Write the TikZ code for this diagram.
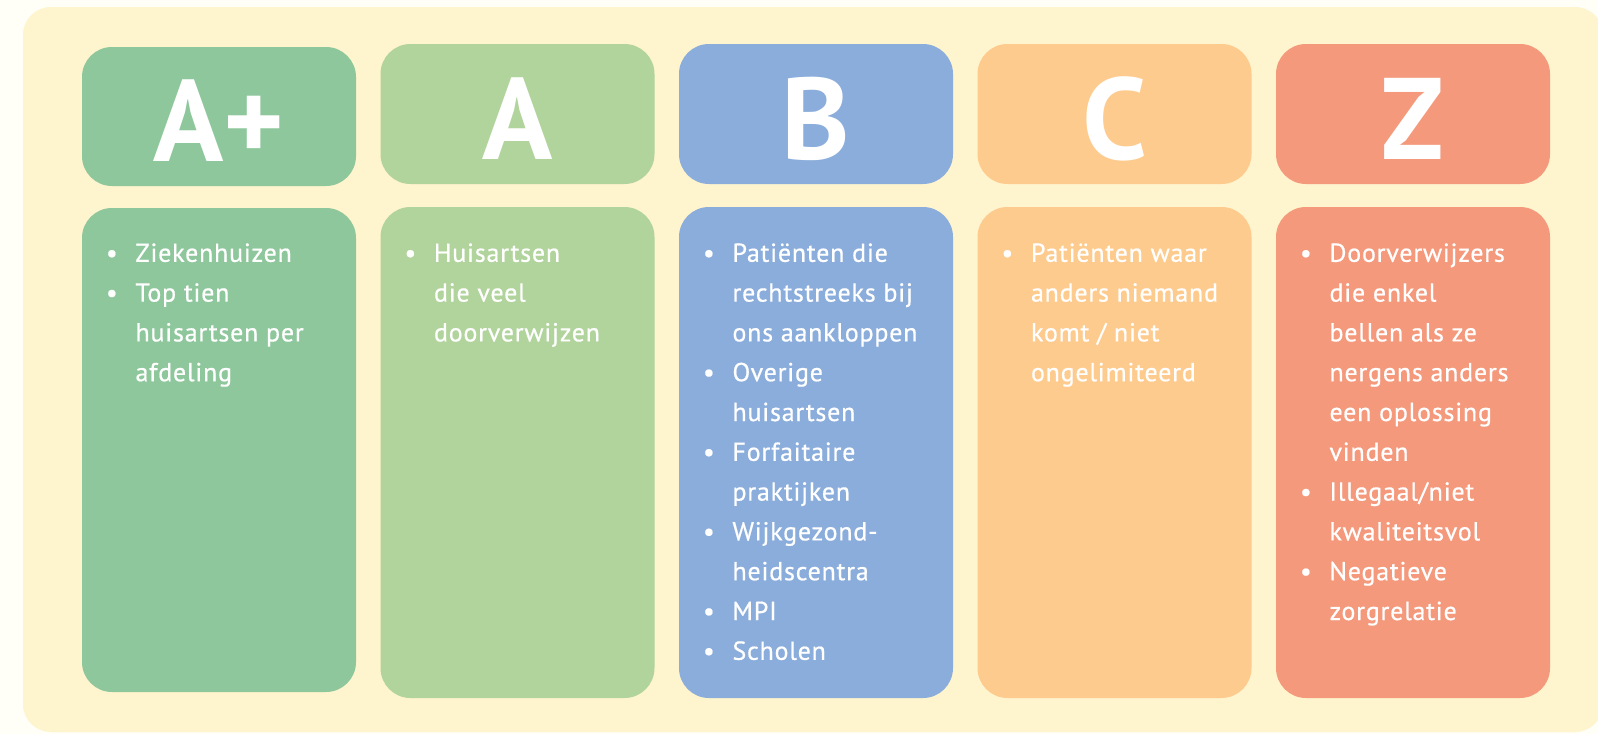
\documentclass[tikz,border=0pt]{standalone}
\usepackage{fontspec}
\setmainfont{PT Sans}
\newfontfamily\itemfont[FakeBold=0.6,LetterSpace=3]{PT Sans}
\usepackage{xcolor}
\usepackage{tikz}
\usetikzlibrary{positioning,calc}
\definecolor{paper}{HTML}{FFFEF7}
\definecolor{panel}{HTML}{FEF4CD}
\definecolor{colAp}{HTML}{8EC79B}
\definecolor{colA}{HTML}{B1D39C}
\definecolor{colB}{HTML}{8BADDB}
\definecolor{colC}{HTML}{FECB8E}
\definecolor{colZ}{HTML}{F4997C}
\newcommand{\bitem}[1]{\hbox{\makebox[29.5pt][l]{•}#1}}
\newcommand{\bline}[1]{\hbox{\hspace{29.5pt}#1}}
\newcommand{\blist}[1]{\vtop{\itemfont\fontsize{26}{39.8}\selectfont #1}}

\begin{document}
\begin{tikzpicture}[x=1pt,y=-1pt,
    hdr/.style={rounded corners=30pt, minimum width=274pt, minimum height=140pt, inner sep=0pt},
    card/.style={rounded corners=30pt, minimum width=274pt, minimum height=491pt, inner sep=0pt},
    grade/.style={anchor=base, text=white, inner sep=0pt, font=\fontsize{116}{116}\selectfont\bfseries},
    items/.style={anchor=base west, text=white, inner sep=0pt}]
    \useasboundingbox[fill=paper] (0,0) rectangle (1598,734);
    \fill[panel, rounded corners=28pt] (23,7) rectangle (1603,732);

    \node[hdr, fill=colAp, minimum height=139pt] (hAp) at (219,116.5) {};
    \node[hdr, fill=colA] (hA) at (517.5,114) {};
    \node[hdr, fill=colB] (hB) at (816,114) {};
    \node[hdr, fill=colC] (hC) at (1114.5,114) {};
    \node[hdr, fill=colZ] (hZ) at (1413,114) {};
    \node[grade] (gAp) at ($(hAp.south)+(0,-25)$) {A+};
    \node[grade] (gA) at ($(hA.south)+(0,-25)$) {A};
    \node[grade] (gB) at ($(hB.south)+(0,-25)$) {B};
    \node[grade] (gC) at ($(hC.south)+(0,-25)$) {C};
    \node[grade] (gZ) at ($(hZ.south)+(0,-25)$) {Z};

    \node[card, fill=colAp, minimum height=484pt] (cAp) at (219,450) {};
    \node[card, fill=colA] (cA) at (517.5,452.5) {};
    \node[card, fill=colB] (cB) at (816,452.5) {};
    \node[card, fill=colC] (cC) at (1114.5,452.5) {};
    \node[card, fill=colZ] (cZ) at (1413,452.5) {};

    \node[items] (lAp) at ($(cAp.north west)+(24,54)$) {\blist{\bitem{Ziekenhuizen}\bitem{Top tien}\bline{huisartsen per}\bline{afdeling}}};
    \node[items] (lA) at ($(cA.north west)+(24,55)$) {\blist{\bitem{Huisartsen}\bline{die veel}\bline{doorverwijzen}}};
    \node[items] (lB) at ($(cB.north west)+(24,55)$) {\blist{\bitem{Patiënten die}\bline{rechtstreeks bij}\bline{ons aankloppen}
        \bitem{Overige}\bline{huisartsen}\bitem{Forfaitaire}\bline{praktijken}
        \bitem{Wijkgezond-}\bline{heidscentra}\bitem{MPI}\bitem{Scholen}}};
    \node[items] (lC) at ($(cC.north west)+(24,55)$) {\blist{\bitem{Patiënten waar}\bline{anders niemand}\bline{komt / niet}\bline{ongelimiteerd}}};
    \node[items] (lZ) at ($(cZ.north west)+(24,55)$) {\blist{\bitem{Doorverwijzers}\bline{die enkel}\bline{bellen als ze}
        \bline{nergens anders}\bline{een oplossing}\bline{vinden}
        \bitem{Illegaal/niet}\bline{kwaliteitsvol}\bitem{Negatieve}\bline{zorgrelatie}}};
\end{tikzpicture}
\end{document}
